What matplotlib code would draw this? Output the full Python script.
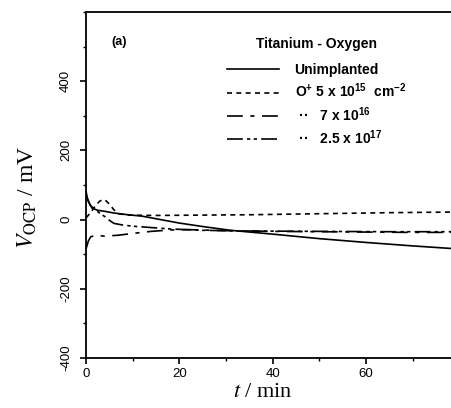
import matplotlib
matplotlib.use('Agg')
import matplotlib.pyplot as plt
from matplotlib.font_manager import FontProperties
from matplotlib.ticker import MultipleLocator

plt.rcParams['mathtext.fontset'] = 'custom'
plt.rcParams['mathtext.rm'] = 'Liberation Sans:bold'
plt.rcParams['mathtext.it'] = 'Liberation Sans:bold'
plt.rcParams['axes.unicode_minus'] = False

# data (t in min, V in mV)
t_unimp = [0, 0.3, 0.8, 1.3, 2.5, 4, 6, 9, 12, 16, 20, 25, 31, 40, 50, 60, 70, 80]
v_unimp = [82, 62, 45, 33, 27, 24, 19, 14, 10, 0, -10, -20, -31, -42, -55, -66, -76, -85]

t_5e15 = [0, 1, 2, 3, 4, 5, 6, 7, 9, 15, 25, 35, 45, 55, 65, 80]
v_5e15 = [5, 20, 40, 54, 58, 45, 28, 17, 13, 12, 13, 14, 16, 18, 20, 22]

t_7e16 = [0, 0.5, 1, 2, 4, 7, 10, 14, 18, 22, 30, 40, 50, 60, 70, 80]
v_7e16 = [-85, -62, -50, -45, -48, -45, -40, -34, -30, -29, -32, -34, -35, -36, -37, -37]

t_25e17 = [0, 0.5, 1, 2, 3, 4, 5, 6, 8, 10, 13, 18, 25, 35, 50, 65, 80]
v_25e17 = [70, 52, 40, 28, 18, 9, -2, -11, -16, -19, -22, -27, -31, -33, -34, -35, -35]

labels = ['Unimplanted',
          r'O$^{+}$ 5 x 10$^{15}$  cm$^{-2}$',
          ' \u00b7\u00b7   7 x 10$^{16}$',
          ' \u00b7\u00b7   2.5 x 10$^{17}$']

fig = plt.figure(figsize=(4.51, 4.08), dpi=100)
ax = fig.add_axes([86 / 451, 50 / 408, 373.2 / 451, 346 / 408])

lw = 1.2
ax.plot(t_unimp, v_unimp, color='black', lw=lw, ls='-', label=labels[0])
ax.plot(t_5e15, v_5e15, color='black', lw=lw, ls=(0, (3, 2.6)), label=labels[1])
ax.plot(t_7e16, v_7e16, color='black', lw=lw, ls=(0, (9.5, 4.5, 2.5, 4.5)), label=labels[2])
ax.plot(t_25e17, v_25e17, color='black', lw=lw, ls=(0, (9.5, 2.5, 2, 2, 2, 2.5)), label=labels[3])

ax.set_xlim(0, 80)
ax.set_ylim(-400, 600)
ax.set_xticks([0, 20, 40, 60])
ax.xaxis.set_minor_locator(MultipleLocator(10))
ax.set_yticks([-400, -200, 0, 200, 400])
ax.yaxis.set_minor_locator(MultipleLocator(100))

for s in ax.spines.values():
    s.set_linewidth(1.3)
ax.tick_params(which='major', direction='out', length=4, width=1.2)
ax.tick_params(axis='y', which='major', pad=6)
ax.tick_params(which='minor', direction='out', length=2.5, width=1.0)

tick_font = FontProperties(family='Liberation Sans', size=9.5)
for lab in ax.get_xticklabels():
    lab.set_fontproperties(tick_font)
for lab in ax.get_yticklabels():
    lab.set_fontproperties(tick_font)
    lab.set_rotation(90)
    lab.set_va('center')

ax.set_ylabel(r'$V_{\mathrm{OCP}}$ / mV', fontsize=17, family='Liberation Serif',
              math_fontfamily='stix')
ax.yaxis.set_label_coords(-0.125, 0.465)
ax.set_xlabel(r'$t$ / min', fontsize=16, family='Liberation Serif',
              math_fontfamily='stix')
ax.xaxis.set_label_coords(0.475, -0.072)

ax.text(0.089, 0.913, '(a)', transform=ax.transAxes, fontsize=9, weight='bold',
        family='Liberation Sans', va='center', ha='center')

leg_font = FontProperties(family='Liberation Sans', weight='bold', size=10,
                          math_fontfamily='custom')
leg = ax.legend(loc='upper left', bbox_to_anchor=(0.343, 0.965), frameon=False,
                prop=leg_font, title='Titanium - Oxygen', title_fontproperties=leg_font,
                handlelength=3.8, handletextpad=1.1, labelspacing=0.34)
leg._legend_box.sep = 9

fig.savefig('out.png', dpi=100)
